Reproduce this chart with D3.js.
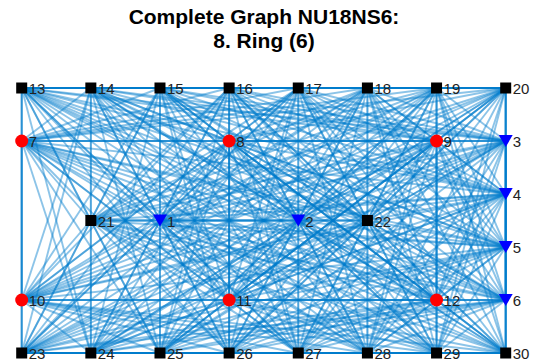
<!DOCTYPE html>
<html><head><meta charset="utf-8">
<script src="https://cdn.jsdelivr.net/npm/d3@7"></script>
<style>html,body{margin:0;padding:0;background:#fff;}svg{display:block;}</style>
</head><body>
<svg id="c" width="533" height="364"></svg>
<script>
const titleLines = ["Complete Graph NU18NS6:", "8. Ring (6)"];
const nodeIds  = [1,2,3,4,5,6,7,8,9,10,11,12,13,14,15,16,17,18,19,20,21,22,23,24,25,26,27,28,29,30];
const nodeX    = [3,5,8,8,8,8,1,4,7,1,4,7,1,2,3,4,5,6,7,8,2,6,1,2,3,4,5,6,7,8];
const nodeY    = [2.5,2.5,1,2,3,4,1,1,1,4,4,4,0,0,0,0,0,0,0,0,2.5,2.5,5,5,5,5,5,5,5,5];
const nodeType = ["ring","ring","ring","ring","ring","ring",
                  "circ","circ","circ","circ","circ","circ",
                  "sq","sq","sq","sq","sq","sq","sq","sq","sq","sq","sq","sq","sq","sq","sq","sq","sq","sq"];

const svg = d3.select("#c");
const x = d3.scaleLinear().domain([1,8]).range([21.7,505.7]);
const y = d3.scaleLinear().domain([0,5]).range([88,353]);

const nodes = nodeIds.map((id,i)=>({id, x:nodeX[i], y:nodeY[i], t:nodeType[i]}));
// complete graph: every pair of nodes connected
const edges = [];
for (let i=0;i<nodes.length;i++) for (let j=i+1;j<nodes.length;j++) edges.push([nodes[i],nodes[j]]);

svg.append("g")
  .selectAll("line").data(edges).join("line")
  .attr("x1",d=>x(d[0].x)).attr("y1",d=>y(d[0].y))
  .attr("x2",d=>x(d[1].x)).attr("y2",d=>y(d[1].y))
  .attr("stroke","rgb(0,124,204)").attr("stroke-opacity",0.45)
  .attr("stroke-width",1.9);

const g = svg.append("g");
nodes.forEach(n=>{
  const cx=x(n.x), cy=y(n.y);
  if (n.t==="sq") g.append("rect").attr("x",cx-5.5).attr("y",cy-5.5).attr("width",11).attr("height",11).attr("fill","#000");
  else if (n.t==="circ") g.append("circle").attr("cx",cx).attr("cy",cy).attr("r",6.5).attr("fill","#f00");
  else g.append("path").attr("d",`M${cx-7},${cy-6}L${cx+7},${cy-6}L${cx},${cy+6}Z`).attr("fill","#0000ff");
});

svg.append("g").selectAll("text").data(nodes).join("text")
  .attr("x",d=>x(d.x)+7).attr("y",d=>y(d.y)+6)
  .attr("font-family","Liberation Sans, Arial, sans-serif")
  .attr("font-size",15).attr("fill","#222")
  .text(d=>d.id);

svg.append("g").selectAll("text").data(titleLines).join("text")
  .attr("x",264).attr("y",(d,i)=>23.5+i*24)
  .attr("text-anchor","middle")
  .attr("font-family","Liberation Sans, Arial, sans-serif")
  .attr("font-weight","bold").attr("font-size",21).attr("fill","#000")
  .text(d=>d);
</script>
</body></html>
